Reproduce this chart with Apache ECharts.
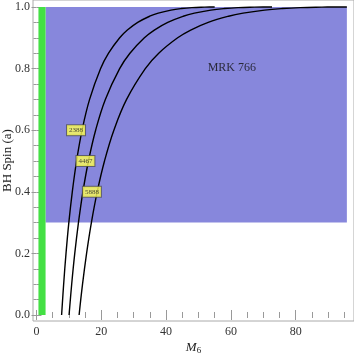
<!DOCTYPE html>
<html>
<head>
<meta charset="utf-8">
<script src="https://cdn.jsdelivr.net/npm/echarts@6/dist/echarts.min.js"></script>
<style>
  html, body { margin: 0; padding: 0; background: #fff; }
  #chart { width: 354px; height: 354px; }
</style>
</head>
<body>
<div id="chart"></div>
<script>
// spin values along each curve, and the mass at each spin
const spins = [0, 0.1, 0.2, 0.3, 0.4, 0.5, 0.6, 0.7, 0.8, 0.85, 0.9, 0.925, 0.95, 0.97, 0.98, 0.99, 0.995, 0.998, 0.9995, 0.9999, 1];
const mass2388 = [7.75, 8.38, 9.11, 9.98, 11.05, 12.37, 14.07, 16.39, 19.79, 22.24, 25.68, 28.05, 31.24, 34.93, 37.58, 41.51, 44.71, 47.98, 51.9, 53.9, 55.0];
const mass4467 = [10.05, 10.86, 11.81, 12.95, 14.32, 16.04, 18.25, 21.25, 25.66, 28.84, 33.3, 36.37, 40.51, 45.3, 48.74, 53.83, 57.98, 62.22, 67.31, 69.9, 72.7];
const mass5888 = [13.15, 14.21, 15.46, 16.94, 18.74, 20.99, 23.88, 27.81, 33.58, 37.73, 43.57, 47.59, 53.0, 59.27, 63.77, 70.43, 75.86, 81.41, 88.1, 91.5, 95.8];

const curveNames = ['2388', '4467', '5888'];
const tagX = [12.2, 15.1, 17.1];
const tagY = [0.60, 0.50, 0.40];

// shaded regions [xFrom, yFrom, xTo, yTo]
const greenBand = [0.6, 0, 2.8, 1.0];
const blueBand = [2.8, 0.3, 95.8, 1.0];

const xMajor = [0, 20, 40, 60, 80];
const xMinor = [5, 10, 15, 25, 30, 35, 45, 50, 55, 65, 70, 75, 85, 90, 95];
const yMajor = [0, 0.2, 0.4, 0.6, 0.8, 1.0];
const yMinor = [0.05, 0.1, 0.15, 0.25, 0.3, 0.35, 0.45, 0.5, 0.55, 0.65, 0.7, 0.75, 0.85, 0.9, 0.95];

const serif = '"Liberation Serif", "DejaVu Serif", serif';
const X_MIN = -1.08, X_MAX = 98.0, Y_MIN = -0.0195, Y_MAX = 1.0227;

function xAx(pos, ticks, len, labels) {
  return {
    type: 'value', position: pos, min: X_MIN, max: X_MAX,
    axisLine: { show: false },
    splitLine: { show: false },
    axisTick: { show: true, inside: true, length: len, customValues: ticks, lineStyle: { color: '#999', width: 1 } },
    axisLabel: labels ? { show: true, customValues: ticks, margin: 5, fontFamily: serif, fontSize: 12, color: '#333' } : { show: false }
  };
}
function yAx(pos, ticks, len, labels) {
  return {
    type: 'value', position: pos, min: Y_MIN, max: Y_MAX,
    axisLine: { show: false },
    splitLine: { show: false },
    axisTick: { show: true, inside: true, length: len, customValues: ticks, lineStyle: { color: '#999', width: 1 } },
    axisLabel: labels ? { show: true, customValues: ticks, margin: 3, fontFamily: serif, fontSize: 12, color: '#333',
      formatter: v => v.toFixed(1) } : { show: false }
  };
}

const xAxes = [xAx('bottom', xMajor, 5, true), xAx('bottom', xMinor, 3, false), xAx('top', xMajor, 5, false), xAx('top', xMinor, 3, false)];
xAxes[0].name = '{i|M}{s|6}';
xAxes[0].nameLocation = 'middle';
xAxes[0].nameGap = 19;
xAxes[0].nameMoveOverlap = false;
xAxes[0].nameTextStyle = { rich: {
  i: { fontFamily: serif, fontStyle: 'italic', fontSize: 13, color: '#222' },
  s: { fontFamily: serif, fontSize: 9, color: '#222', verticalAlign: 'bottom', padding: [6, 0, 0, 0] }
} };
const yAxes = [yAx('left', yMajor, 5, true), yAx('left', yMinor, 3, false), yAx('right', yMajor, 5, false), yAx('right', yMinor, 3, false)];
yAxes[0].name = 'BH Spin (a)';
yAxes[0].nameLocation = 'middle';
yAxes[0].nameGap = 19;
yAxes[0].nameMoveOverlap = false;
yAxes[0].nameTextStyle = { fontFamily: serif, fontSize: 13, color: '#222' };

const masses = [mass2388, mass4467, mass5888];
const curveSeries = masses.map((m, i) => ({
  name: curveNames[i], type: 'line', z: 3,
  data: m.map((x, k) => [x, spins[k]]),
  showSymbol: false, smooth: 0.4,
  lineStyle: { color: '#000', width: 1.4 }
}));

const option = {
  animation: false,
  grid: { left: 33, right: 0, top: 0, bottom: 33, outerBoundsMode: 'none', containLabel: false,
    show: true, borderColor: '#aaa', borderWidth: 1, backgroundColor: 'transparent' },
  xAxis: xAxes,
  yAxis: yAxes,
  series: [
    {
      type: 'line', data: [], z: 1, silent: true,
      markArea: {
        silent: true,
        data: [
          [{ xAxis: blueBand[0], yAxis: blueBand[1], itemStyle: { color: '#8787dc' } }, { xAxis: blueBand[2], yAxis: blueBand[3] }],
          [{ xAxis: greenBand[0], yAxis: greenBand[1], itemStyle: { color: '#44e044' } }, { xAxis: greenBand[2], yAxis: greenBand[3] }]
        ]
      }
    },
    ...curveSeries,
    {
      type: 'scatter', z: 5, symbolSize: 0,
      data: tagX.map((x, i) => ({ value: [x, tagY[i]], name: curveNames[i] })),
      label: {
        show: true, position: 'inside', formatter: p => p.name,
        fontFamily: serif, fontSize: 7, color: '#222',
        backgroundColor: '#ffff55', borderColor: '#555', borderWidth: 1, padding: [2, 2, 1, 2]
      }
    },
    {
      type: 'scatter', z: 5, symbolSize: 0,
      data: [[60.3, 0.802]],
      label: { show: true, position: 'inside', formatter: 'MRK 766', fontFamily: serif, fontSize: 12, color: '#111' }
    }
  ]
};

const chart = echarts.init(document.getElementById('chart'));
chart.setOption(option);
window.addEventListener('resize', () => chart.resize());
</script>
</body>
</html>
